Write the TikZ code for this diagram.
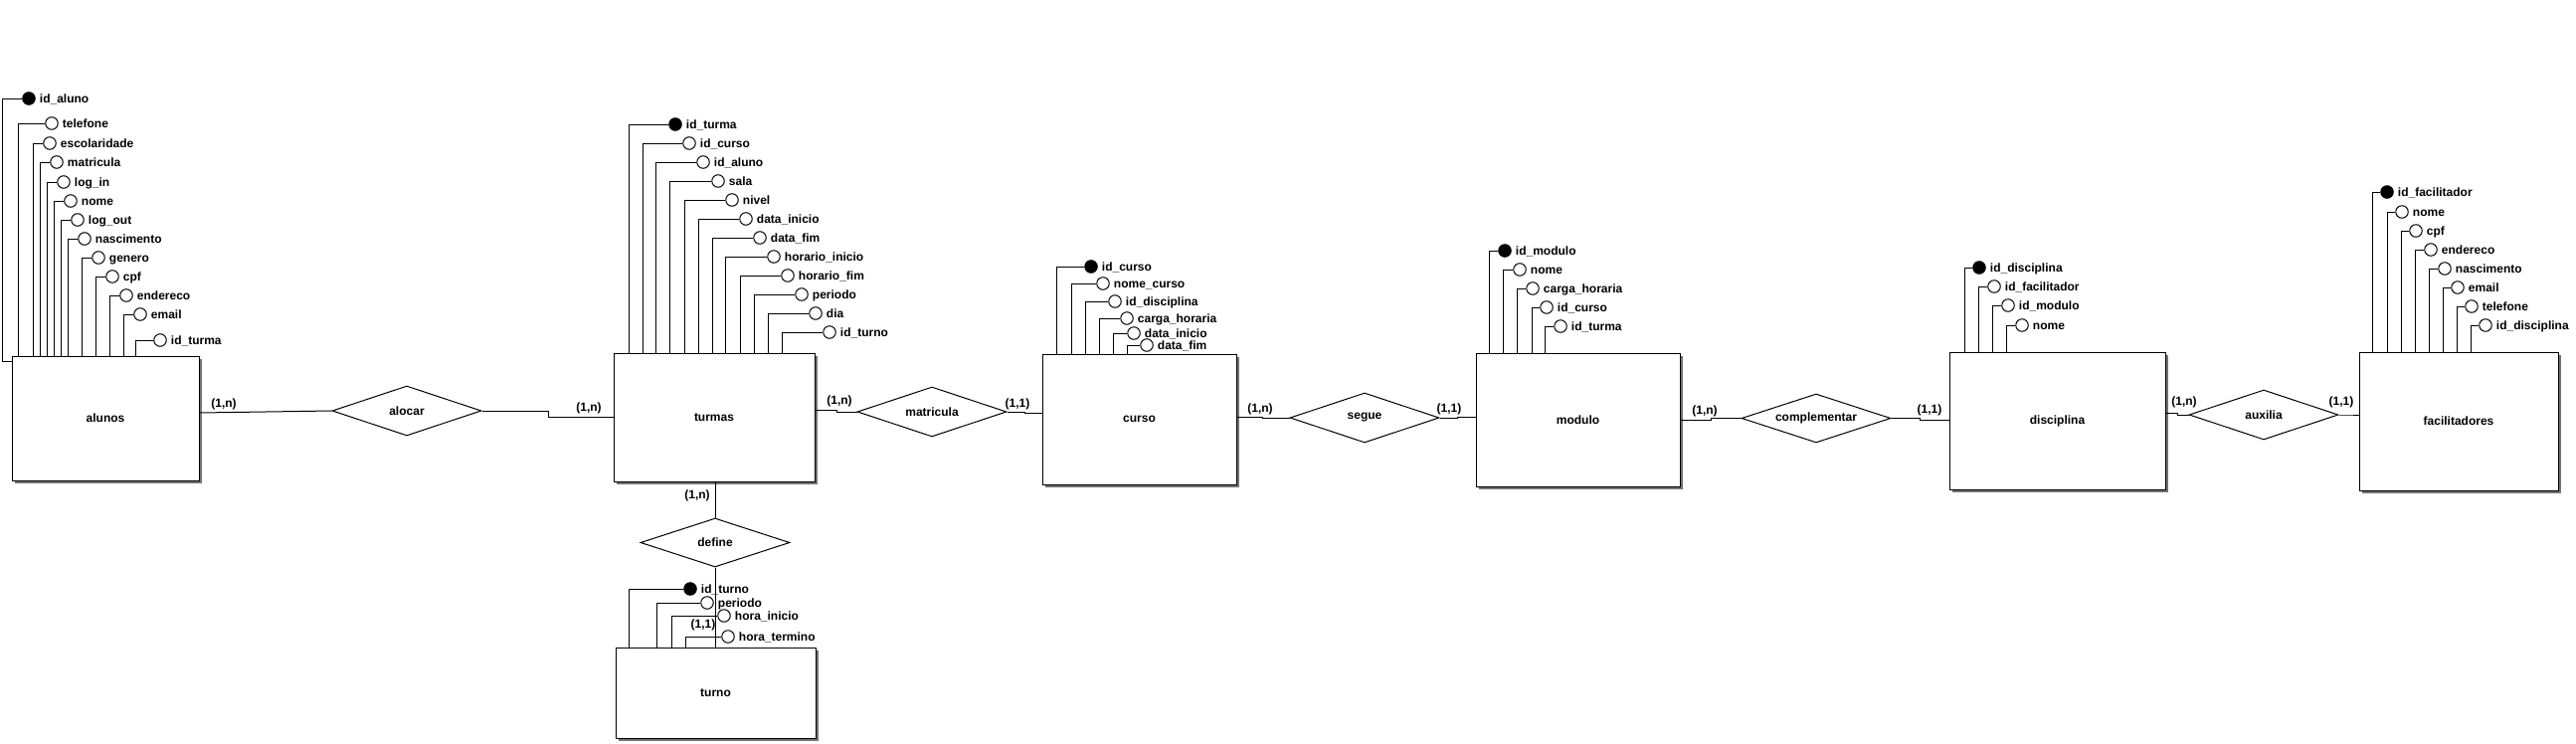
\documentclass[tikz,border=0pt]{standalone}
\usepackage{fontspec}
\setmainfont{Liberation Sans}
\usetikzlibrary{shapes.geometric,shadows}
\tikzset{
  base/.style={line width=1pt},
  ent/.style={base, draw, fill=white, rectangle, inner sep=0pt,
    drop shadow={shadow xshift=2.5pt, shadow yshift=-2.5pt, fill=black!55, opacity=1}},
  rel/.style={base, draw, fill=white, diamond, aspect=3, inner sep=0pt,
    minimum width=150pt, minimum height=50pt},
  keyattr/.style={base, draw, fill=black, circle, inner sep=0pt, minimum size=12.5pt},
  attr/.style={base, draw, fill=white, circle, inner sep=0pt, minimum size=12.5pt},
  attrtext/.style={anchor=base west, inner sep=0pt},
  card/.style={inner sep=0pt},
  conn/.style={base, draw}
}
\newcommand\attrib[7]{%
  \node[#7] (#1) at (#4,#5) {};
  \node[attrtext] (#1-t) at ([xshift=4pt,yshift=-4.3pt]#1.east) {#6};
  \coordinate (#1-v) at (#3,0);
  \draw[conn] (#1.west) -| (#1-v |- #2.north);
}
\begin{document}
\begin{tikzpicture}[x=1pt,y=-1pt,font=\fontsize{12}{14}\selectfont\bfseries]
\fill[white] (0,0) rectangle (2590,747);
\useasboundingbox (0,0) rectangle (2590,747);

% entities
\node[ent, minimum width=188pt, minimum height=125pt] (alunos) at (106,420.5) {alunos};
\node[ent, minimum width=202pt, minimum height=129pt] (turmas) at (718,419.5) {turmas};
\node[ent, minimum width=195pt, minimum height=131pt] (curso) at (1145.5,421.5) {curso};
\node[ent, minimum width=205pt, minimum height=134pt] (modulo) at (1586.5,422) {modulo};
\node[ent, minimum width=217pt, minimum height=138pt] (disciplina) at (2068.5,423) {disciplina};
\node[ent, minimum width=200pt, minimum height=139pt] (facil) at (2472,423.5) {facilitadores};
\node[ent, minimum width=201pt, minimum height=91pt] (turno) at (719.5,696.5) {turno};

% relationships
\node[rel] (alocar) at (409,413) {alocar};
\node[rel] (matricula) at (937,414) {matricula};
\node[rel] (segue) at (1372,420) {segue};
\node[rel, minimum height=49pt] (complementar) at (1826,420.5) {complementar};
\node[rel] (auxilia) at (2276,417) {auxilia};
\node[rel, minimum height=49pt] (define) at (719,545.5) {define};

% connectors
\draw[conn] ([yshift=5.5pt]alunos.east) -- (alocar.west);
\draw[conn] (alocar.east) -- ++(67,0) |- (turmas.west);
\draw[conn] ([yshift=7.5pt]turmas.east) -- ++(22,0) |- (matricula.west);
\draw[conn] (matricula.east) -- ++(18,0) |- ([yshift=6.5pt]curso.west);
\draw[conn] ([yshift=2.5pt]curso.east) -- ++(26,0) |- (segue.west);
\draw[conn] (segue.east) -- ++(18,0) |- ([yshift=3pt]modulo.west);
\draw[conn] (modulo.east) -- ++(31,0) |- (complementar.west);
\draw[conn] (complementar.east) -- ++(29,0) |- ([yshift=1pt]disciplina.west);
\draw[conn] ([yshift=8pt]disciplina.east) -- ++(12,0) |- (auxilia.west);
\draw[conn] (auxilia.east) -- ++(9,0) |- ([yshift=6.5pt]facil.west);
\draw[conn] (define.north |- turmas.south) -- (define.north);
\draw[conn] (define.south) -- (define.south |- turno.north);

% cardinalities
\node[card] (c1) at (225,406) {(1,n)};
\node[card] (c2) at (592,410) {(1,n)};
\node[card] (c3) at (844,403) {(1,n)};
\node[card] (c4) at (1023,406) {(1,1)};
\node[card] (c5) at (1267,411) {(1,n)};
\node[card] (c6) at (1457,411) {(1,1)};
\node[card] (c7) at (1714,413) {(1,n)};
\node[card] (c8) at (1940,412) {(1,1)};
\node[card] (c9) at (2196,404) {(1,n)};
\node[card] (c10) at (2354,404) {(1,1)};
\node[card] (c11) at (701,498) {(1,n)};
\node[card] (c12) at (707,628) {(1,1)};

% alunos attributes
\node[keyattr] (al1) at (29,99) {};
\node[attrtext] (al1-t) at ([xshift=4pt,yshift=-4.3pt]al1.east) {id\_aluno};
\coordinate (al1-c) at (2,363);
\draw[conn] (alunos.west |- al1-c) -- (al1-c) |- (al1.west);
\attrib{al2}{alunos}{18}{52}{124}{telefone}{attr}
\attrib{al3}{alunos}{33}{50}{144}{escolaridade}{attr}
\attrib{al4}{alunos}{40}{57}{163}{matricula}{attr}
\attrib{al5}{alunos}{47}{64}{183}{log\_in}{attr}
\attrib{al6}{alunos}{54}{71}{202}{nome}{attr}
\attrib{al7}{alunos}{61}{78}{221}{log\_out}{attr}
\attrib{al8}{alunos}{68}{85}{240}{nascimento}{attr}
\attrib{al9}{alunos}{82}{99}{259}{genero}{attr}
\attrib{al10}{alunos}{96}{113}{278}{cpf}{attr}
\attrib{al11}{alunos}{110}{127}{297}{endereco}{attr}
\attrib{al12}{alunos}{124}{141}{316}{email}{attr}
\attrib{al13}{alunos}{136}{161}{342}{id\_turma}{attr}

% turmas attributes
\attrib{tu1}{turmas}{632}{679}{125}{id\_turma}{keyattr}
\attrib{tu2}{turmas}{646}{693}{144}{id\_curso}{attr}
\attrib{tu3}{turmas}{659}{707}{163}{id\_aluno}{attr}
\attrib{tu4}{turmas}{673}{722}{182}{sala}{attr}
\attrib{tu5}{turmas}{688}{736}{201}{nivel}{attr}
\attrib{tu6}{turmas}{702}{750}{220}{data\_inicio}{attr}
\attrib{tu7}{turmas}{716}{764}{239}{data\_fim}{attr}
\attrib{tu8}{turmas}{729}{778}{258}{horario\_inicio}{attr}
\attrib{tu9}{turmas}{744}{792}{277}{horario\_fim}{attr}
\attrib{tu10}{turmas}{758}{806}{296}{periodo}{attr}
\attrib{tu11}{turmas}{772}{820}{315}{dia}{attr}
\attrib{tu12}{turmas}{786}{834}{334}{id\_turno}{attr}

% curso attributes
\attrib{cu1}{curso}{1062}{1097}{268}{id\_curso}{keyattr}
\attrib{cu2}{curso}{1077}{1109}{285}{nome\_curso}{attr}
\attrib{cu3}{curso}{1091}{1121}{303}{id\_disciplina}{attr}
\attrib{cu4}{curso}{1105}{1133}{320}{carga\_horaria}{attr}
\attrib{cu5}{curso}{1119}{1140}{335}{data\_inicio}{attr}
\attrib{cu6}{curso}{1133}{1153}{347}{data\_fim}{attr}

% modulo attributes
\attrib{mo1}{modulo}{1497}{1513}{252}{id\_modulo}{keyattr}
\attrib{mo2}{modulo}{1511}{1528}{271}{nome}{attr}
\attrib{mo3}{modulo}{1525}{1541}{290}{carga\_horaria}{attr}
\attrib{mo4}{modulo}{1540}{1555}{309}{id\_curso}{attr}
\attrib{mo5}{modulo}{1553}{1569}{328}{id\_turma}{attr}

% disciplina attributes
\attrib{di1}{disciplina}{1975}{1990}{269}{id\_disciplina}{keyattr}
\attrib{di2}{disciplina}{1989}{2005}{288}{id\_facilitador}{attr}
\attrib{di3}{disciplina}{2003}{2019}{307}{id\_modulo}{attr}
\attrib{di4}{disciplina}{2017}{2033}{327}{nome}{attr}

% facilitadores attributes
\attrib{fa1}{facil}{2385}{2400}{193}{id\_facilitador}{keyattr}
\attrib{fa2}{facil}{2400}{2415}{213}{nome}{attr}
\attrib{fa3}{facil}{2414}{2429}{232}{cpf}{attr}
\attrib{fa4}{facil}{2428}{2444}{251}{endereco}{attr}
\attrib{fa5}{facil}{2442}{2458}{270}{nascimento}{attr}
\attrib{fa6}{facil}{2456}{2471}{289}{email}{attr}
\attrib{fa7}{facil}{2470}{2485}{308}{telefone}{attr}
\attrib{fa8}{facil}{2484}{2499}{327}{id\_disciplina}{attr}

% turno attributes
\attrib{tn1}{turno}{632}{694}{592}{id\_turno}{keyattr}
\attrib{tn2}{turno}{660}{711}{606}{periodo}{attr}
\attrib{tn3}{turno}{675}{728}{619}{hora\_inicio}{attr}
\attrib{tn4}{turno}{689}{732}{640}{hora\_termino}{attr}
\end{tikzpicture}
\end{document}
